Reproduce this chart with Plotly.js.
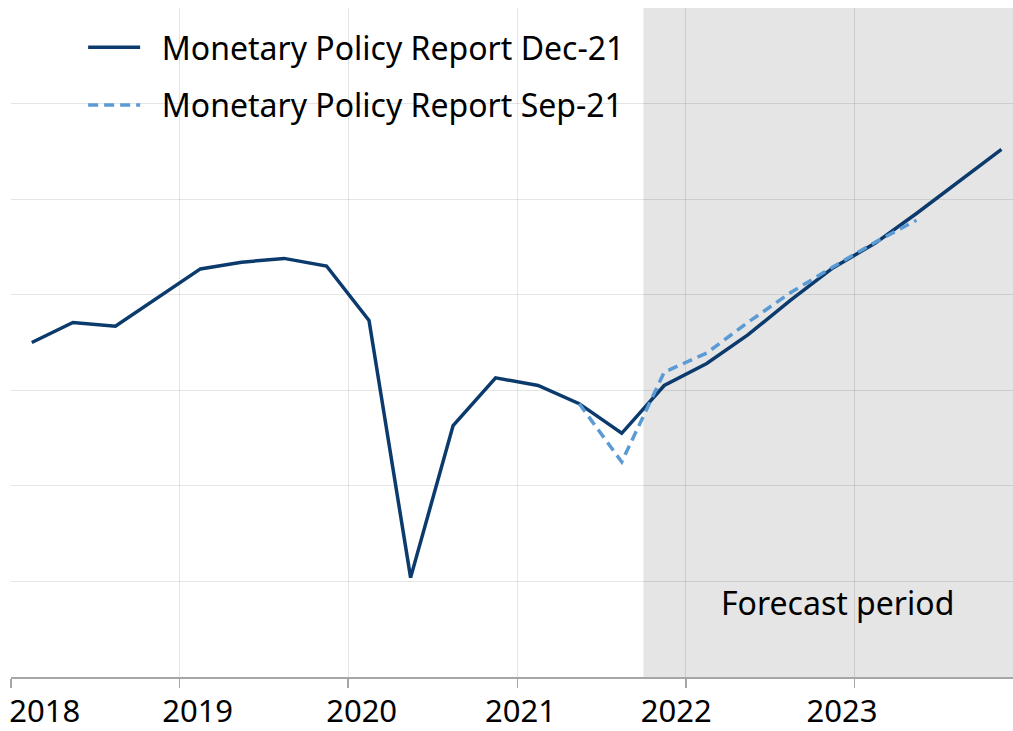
<!DOCTYPE html>
<html>
<head>
<meta charset="utf-8">
<script src="https://cdn.plot.ly/plotly-3.0.1.min.js"></script>
<style>
  html, body { margin: 0; padding: 0; background: #fff; }
  #chart { width: 1013px; height: 731px; }
</style>
</head>
<body>
<div id="chart"></div>
<script>
// quarterly points, placed mid-quarter
var quarters = [
  "2018-02-15", "2018-05-15", "2018-08-15", "2018-11-15",
  "2019-02-15", "2019-05-15", "2019-08-15", "2019-11-15",
  "2020-02-15", "2020-05-15", "2020-08-15", "2020-11-15",
  "2021-02-15", "2021-05-15", "2021-08-15", "2021-11-15",
  "2022-02-15", "2022-05-15", "2022-08-15", "2022-11-15",
  "2023-02-15", "2023-05-15", "2023-08-15", "2023-11-15"
];
var mpr_dec21 = [
  2.550, 2.571, 2.567, 2.597,
  2.627, 2.634, 2.638, 2.630,
  2.573, 2.304, 2.463, 2.513,
  2.505, 2.486, 2.455, 2.505,
  2.528, 2.558, 2.594, 2.628,
  2.654, 2.685, 2.718, 2.752
];
// Sep-21 report starts from 2021 Q2
var sep_quarters = quarters.slice(13, 22);
var mpr_sep21 = [2.486, 2.425, 2.519, 2.539, 2.571, 2.602, 2.629, 2.655, 2.678];

// tick marks sit on year starts, the labels are spread a bit differently
var year_ticks = ["2018-01-01", "2019-01-01", "2020-01-01", "2021-01-01", "2022-01-01", "2023-01-01"];
var label_pos = ["2018-03-15", "2019-02-09", "2020-01-30", "2021-01-08", "2021-12-11", "2022-12-05"];
var year_labels = ["2018", "2019", "2020", "2021", "2022", "2023"];
var forecast_start = "2021-10-01";
var x_range = ["2018-01-01", "2023-12-10"];

var font_family = "'Noto Sans', 'DejaVu Sans', sans-serif";
var pad = "\u00a0\u00a0";

var data = [
  {
    name: pad + "Monetary Policy Report Dec-21",
    type: "scatter",
    mode: "lines",
    x: quarters,
    y: mpr_dec21,
    legendgroup: "a",
    line: { color: "#0b3a6c", width: 3.5 }
  },
  {
    name: pad + "Monetary Policy Report Sep-21",
    type: "scatter",
    mode: "lines",
    x: sep_quarters,
    y: mpr_sep21,
    legendgroup: "b",
    line: { color: "#5b9bd5", width: 3.5, dash: "10px,6px" }
  },
  {
    // empty trace so the label axis gets drawn
    type: "scatter",
    mode: "markers",
    x: label_pos,
    y: label_pos.map(function () { return null; }),
    xaxis: "x2",
    yaxis: "y",
    showlegend: false,
    hoverinfo: "skip",
    marker: { opacity: 0 }
  }
];

var layout = {
  width: 1013,
  height: 731,
  margin: { l: 11, r: 0, t: 8, b: 54 },
  paper_bgcolor: "#ffffff",
  plot_bgcolor: "#ffffff",
  font: { family: font_family, color: "#000" },
  showlegend: true,
  legend: {
    x: 0.072, y: 0.982, xanchor: "left", yanchor: "top",
    bgcolor: "rgba(0,0,0,0)",
    font: { size: 32, family: font_family, color: "#000" },
    traceorder: "grouped",
    tracegroupgap: 13,
    itemwidth: 52
  },
  xaxis: {
    type: "date",
    range: x_range,
    tickmode: "array",
    tickvals: year_ticks,
    showticklabels: false,
    ticks: "outside",
    ticklen: 9,
    tickwidth: 1.5,
    tickcolor: "#a6a6a6",
    showline: true,
    linecolor: "#a6a6a6",
    linewidth: 2,
    showgrid: true,
    gridcolor: "rgba(0,0,0,0.1)",
    gridwidth: 1,
    zeroline: false
  },
  xaxis2: {
    type: "date",
    overlaying: "x",
    anchor: "y",
    side: "bottom",
    range: x_range,
    tickmode: "array",
    tickvals: label_pos,
    ticktext: year_labels,
    ticks: "",
    showgrid: false,
    showline: false,
    zeroline: false,
    ticklabelstandoff: 13,
    tickfont: { size: 31, family: font_family, color: "#000" }
  },
  yaxis: {
    range: [2.2, 2.9],
    dtick: 0.1,
    showticklabels: false,
    ticks: "",
    showgrid: true,
    gridcolor: "rgba(0,0,0,0.1)",
    gridwidth: 1,
    zeroline: false,
    showline: false
  },
  shapes: [
    {
      type: "rect",
      xref: "x", yref: "paper",
      x0: forecast_start, x1: x_range[1],
      y0: 0, y1: 1,
      fillcolor: "#e5e5e5",
      line: { width: 0 },
      layer: "below"
    }
  ],
  annotations: [
    {
      text: "Forecast period",
      xref: "paper", yref: "paper",
      x: 0.825, y: 0.112,
      xanchor: "center", yanchor: "middle",
      showarrow: false,
      font: { size: 32, family: font_family, color: "#000" }
    }
  ]
};

Plotly.newPlot("chart", data, layout, { displayModeBar: false, staticPlot: true });
</script>
</body>
</html>
